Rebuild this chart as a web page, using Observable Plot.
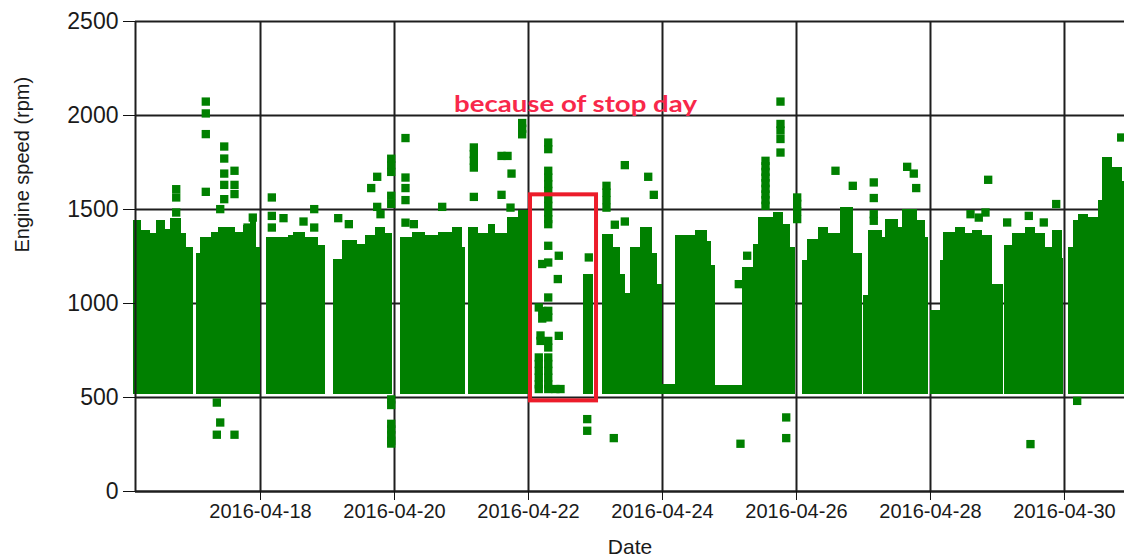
<!DOCTYPE html>
<html><head><meta charset="utf-8">
<script src="https://cdn.jsdelivr.net/npm/d3@7"></script>
<script src="https://cdn.jsdelivr.net/npm/@observablehq/plot@0.6"></script>
<style>
html,body{margin:0;padding:0;background:#fff;}
#chart{width:1124px;height:558px;overflow:hidden;}
</style></head><body><div id="chart"></div>
<script>
// ---- Data ----
// Dense bands of engine-speed samples: each step = [from, to] with the top of the band (rpm)
const stepFrom = [
  "04-16 02:30","04-16 05:30","04-16 08:30","04-16 10:50","04-16 13:50","04-16 15:40","04-16 19:50","04-16 21:35",
  "04-17 01:10","04-17 02:24","04-17 06:33","04-17 08:57","04-17 14:56","04-17 17:55","04-17 20:19","04-17 22:41",
  "04-18 02:16","04-18 10:02","04-18 11:49","04-18 16:00","04-18 20:47",
  "04-19 02:16","04-19 05:16","04-19 10:38","04-19 13:37","04-19 17:12","04-19 20:47",
  "04-20 02:09","04-20 06:20","04-20 11:06","04-20 15:52","04-20 20:40","04-21 00:15",
  "04-21 02:37","04-21 06:12","04-21 09:47","04-21 12:11","04-21 16:22","04-21 20:32",
  "04-22 19:48",
  "04-23 02:24","04-23 06:33","04-23 08:56","04-23 10:44","04-23 12:32","04-23 16:07","04-23 20:19","04-23 22:06","04-23 23:54",
  "04-24 04:39","04-24 11:49","04-24 16:00","04-24 17:30","04-24 18:59",
  "04-25 04:33","04-25 08:42","04-25 10:30","04-25 15:52","04-25 19:27","04-25 21:51",
  "04-26 02:02","04-26 03:49","04-26 08:00","04-26 11:34","04-26 15:46","04-26 20:32",
  "04-27 00:06","04-27 01:54","04-27 06:42","04-27 07:53","04-27 12:39","04-27 13:50","04-27 19:13","04-27 22:12",
  "04-28 00:00","04-28 03:35","04-28 04:47","04-28 08:57","04-28 12:32","04-28 14:56","04-28 18:31","04-28 22:06",
  "04-29 02:25","04-29 05:16","04-29 10:02","04-29 13:37","04-29 17:12","04-29 19:36","04-29 23:11",
  "04-30 01:33","04-30 03:20","04-30 05:08","04-30 08:42","04-30 12:17","04-30 13:30","04-30 17:05","04-30 20:40"
];
const stepTo = [
  "04-16 05:30","04-16 08:30","04-16 10:50","04-16 13:50","04-16 15:40","04-16 19:50","04-16 21:35","04-17 00:00",
  "04-17 02:24","04-17 06:33","04-17 08:57","04-17 14:56","04-17 17:55","04-17 20:19","04-17 22:41","04-17 23:54",
  "04-18 10:02","04-18 11:49","04-18 16:00","04-18 20:47","04-18 23:10",
  "04-19 05:16","04-19 10:38","04-19 13:37","04-19 17:12","04-19 20:47","04-19 23:10",
  "04-20 06:20","04-20 11:06","04-20 15:52","04-20 20:40","04-21 00:15","04-21 01:26",
  "04-21 06:12","04-21 09:47","04-21 12:11","04-21 16:22","04-21 20:32","04-22 00:06",
  "04-22 23:23",
  "04-23 06:33","04-23 08:56","04-23 10:44","04-23 12:32","04-23 16:07","04-23 20:19","04-23 22:06","04-23 23:54","04-24 04:39",
  "04-24 11:49","04-24 16:00","04-24 17:30","04-24 18:59","04-25 04:33",
  "04-25 08:42","04-25 10:30","04-25 15:52","04-25 19:27","04-25 21:51","04-25 23:38",
  "04-26 03:49","04-26 08:00","04-26 11:34","04-26 15:46","04-26 20:32","04-26 23:32",
  "04-27 01:54","04-27 06:42","04-27 07:53","04-27 12:39","04-27 13:50","04-27 19:13","04-27 22:12","04-27 23:23",
  "04-28 03:35","04-28 04:47","04-28 08:57","04-28 12:32","04-28 14:56","04-28 18:31","04-28 22:06","04-29 02:15",
  "04-29 05:16","04-29 10:02","04-29 13:37","04-29 17:12","04-29 19:36","04-29 23:11","04-29 23:45",
  "04-30 03:20","04-30 05:08","04-30 08:42","04-30 12:17","04-30 13:30","04-30 17:05","04-30 20:40","04-30 21:30"
];
const stepTop = [
  1440,1387,1370,1440,1395,1450,1370,1298,
  1264,1351,1378,1404,1378,1413,1440,1298,
  1351,1360,1378,1351,1307,
  1236,1333,1316,1360,1404,1370,
  1351,1378,1360,1378,1404,1298,
  1404,1370,1422,1370,1457,1493,
  1156,
  1369,1300,1156,1051,1298,1404,1264,1103,571,
  1360,1387,1330,1200,562,
  1190,1316,1457,1484,1422,1298,
  1227,1343,1404,1370,1511,1264,
  1041,1387,1351,1449,1404,1502,1440,1351,
  961,1227,1378,1404,1370,1390,1360,1103,
  1307,1370,1404,1370,1298,1387,1240,
  1298,1440,1475,1457,1546,1777,1723,1650
];
const bandFloor = 515;

// Scattered samples: time and the rpm values recorded at that time
const dotTimes = [
  "04-16 17:48","04-17 04:24","04-17 08:21","04-17 09:34","04-17 11:00","04-17 14:41","04-17 19:21","04-17 21:14",
  "04-18 04:03","04-18 08:14","04-18 15:24","04-18 19:14",
  "04-19 03:50","04-19 07:38","04-19 15:39","04-19 17:48","04-19 18:59","04-19 22:49",
  "04-20 03:56","04-20 06:55","04-20 17:05",
  "04-21 04:25","04-21 14:20","04-21 16:29","04-21 17:33","04-21 17:55","04-21 21:44",
  "04-22 03:41","04-22 04:18","04-22 04:55","04-22 07:04","04-22 09:40","04-22 10:30","04-22 10:51","04-22 11:28","04-22 21:02","04-22 21:36",
  "04-23 03:56","04-23 06:33","04-23 06:55","04-23 10:30","04-23 18:53","04-23 20:53",
  "04-25 03:20","04-25 03:56","04-25 06:20","04-25 12:54","04-25 18:16","04-25 20:19",
  "04-26 00:15","04-26 13:58","04-26 20:10",
  "04-27 03:41","04-27 15:39","04-27 18:01","04-27 18:53",
  "04-28 14:20","04-28 17:18","04-28 19:42","04-28 20:40",
  "04-29 03:28","04-29 11:13","04-29 11:49","04-29 16:35","04-29 21:02",
  "04-30 04:33","04-30 20:19"
];
const dotValues = [
  [1608,1564,1484],[2074,2011,1901,1594],[473,302],[1502,367],[1835,1771,1691,1631,1555],[1706,1631,1582,302],[1404],[1457],
  [1564,1466,1404],[1454],[1436],[1502,1404],
  [1454],[1422],[1614],[1674,1514],[1475],[1770,1735,1700,1573,1530,490,460,360,330,300,270,255],
  [1880,1670,1614,1550,1430],[1422],[1514],
  [1830,1795,1760,1723,1567],[1785,1578],[1785],[1510],[1691],[1960,1930,1900],
  [979,713,678,642,606,570,545],[801,830],[1210,960,920],
  [1856,1821,1706,1670,1635,1599,1555,1520,1484,1449,1422,1307,1218,1032,961,926,801,766,713,678,642,606,570,545],
  [545],[1130],[1254,828],[545],[385,323],[1245],
  [1626,1590,1550,1510],[284],[1419],[1736,1436],[1674],[1578],
  [1103],[254],[1254],[1759,1730,1700,1670,1640,1610,1580,1550,1520],[2074,1955,1920,1875,1803],[394,284],
  [1564,1530,1490,1449],[1706],[1626],
  [1644,1561,1475,1440],[1727],[1691],[1614],
  [1475],[1457],[1484],[1658],
  [1431],[1466],[252],[1431],[1529],
  [482],[1883]
];

const xTickLabels = ["2016-04-18","2016-04-20","2016-04-22","2016-04-24","2016-04-26","2016-04-28","2016-04-30"];
const yTicks = [0, 500, 1000, 1500, 2000, 2500];
const yTickLabels = ["0", "500", "1000", "1500", "2000", "2500"];
const xStart = "04-16 03:13", xEnd = "04-30 21:30";

const noteText = "because of stop day";
const noteTime = "04-22 16:50", noteRpm = 2020;
const boxFrom = "04-22 00:43", boxTo = "04-23 00:22", boxLow = 482, boxHigh = 1578;

// ---- Build tables ----
const t = s => new Date("2016-" + s.replace(" ", "T") + ":00Z");
const steps = stepFrom.map((f, i) => ({from: t(f), to: t(stepTo[i]), low: bandFloor, top: stepTop[i]}));
const dots = dotTimes.flatMap((s, i) => dotValues[i].map(v => ({time: t(s), rpm: v})));
const xTickDates = xTickLabels.map(s => new Date(s + "T00:00:00Z"));
const xLabel = new Map(xTickDates.map((d, i) => [+d, xTickLabels[i]]));
const yLabel = new Map(yTicks.map((d, i) => [d, yTickLabels[i]]));

const green = "#008000";
const gridColor = "#1e1e1e";

const chart = Plot.plot({
  width: 1124, height: 558,
  marginLeft: 135, marginRight: 0, marginTop: 21, marginBottom: 67,
  style: {fontFamily: "'Liberation Sans', Arial, sans-serif", color: "#1a1a1a", background: "#fff", overflow: "visible"},
  x: {type: "utc", domain: [t(xStart), t(xEnd)]},
  y: {domain: [0, 2500]},
  marks: [
    Plot.gridY(yTicks, {stroke: gridColor, strokeOpacity: 1, strokeWidth: 2}),
    Plot.gridX(xTickDates, {stroke: gridColor, strokeOpacity: 1, strokeWidth: 2}),
    Plot.rect(steps, {x1: "from", x2: "to", y1: "low", y2: "top", fill: green, shapeRendering: "crispEdges"}),
    Plot.dot(dots, {x: "time", y: "rpm", symbol: "square", r: 4.7, fill: green}),
    Plot.ruleX([t(xStart)], {stroke: gridColor, strokeWidth: 2}),
    Plot.ruleY([0], {stroke: gridColor, strokeWidth: 2}),
    Plot.rect([{a: t(boxFrom), b: t(boxTo), lo: boxLow, hi: boxHigh}], {x1: "a", x2: "b", y1: "lo", y2: "hi", fill: "none", stroke: "#ec1c2a", strokeWidth: 4}),
    Plot.text([noteText], {x: () => t(noteTime), y: () => noteRpm, text: d => d, fill: "#f8284a", fontWeight: "bold", fontSize: 22, fontFamily: "Lato, 'Open Sans', sans-serif", lineAnchor: "bottom", className: "note"}),
    Plot.axisY(yTicks, {tickSize: 12, tickPadding: 5, fontSize: 23, label: null, stroke: "#111", tickFormat: d => yLabel.get(d)}),
    Plot.axisX(xTickDates, {tickSize: 9, tickPadding: 3, fontSize: 20, label: null, tickFormat: d => xLabel.get(+d), stroke: "#111"}),
    Plot.text(["Engine speed (rpm)"], {frameAnchor: "left", rotate: -90, dx: -113, dy: -4, fontSize: 20, text: d => d}),
    Plot.text(["Date"], {frameAnchor: "bottom", dy: 56, fontSize: 21, lineAnchor: "middle", text: d => d})
  ]
});
document.getElementById("chart").appendChild(chart);
const note = chart.querySelector(".note text");
if (note) { note.setAttribute("textLength", "243"); note.setAttribute("lengthAdjust", "spacingAndGlyphs"); }
</script>
</body></html>
